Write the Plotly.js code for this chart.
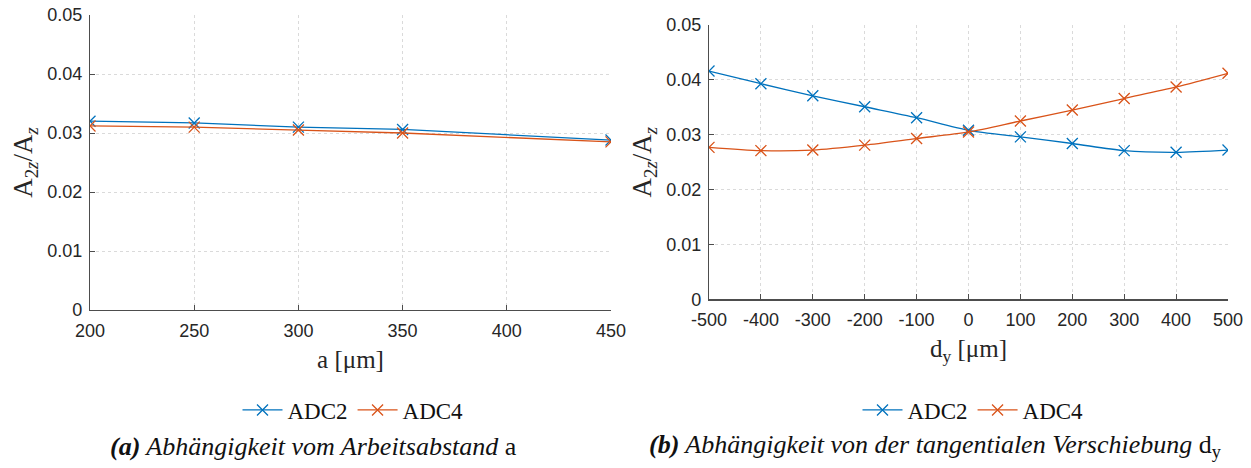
<!DOCTYPE html>
<html>
<head>
<meta charset="utf-8">
<script src="https://cdn.plot.ly/plotly-3.0.1.min.js"></script>
<style>html,body{margin:0;padding:0;background:#fff}#chart{width:1251px;height:468px}</style>
</head>
<body>
<div id="chart"></div>
<script>
// (a) working distance a [µm]
const aValues = [200, 250, 300, 350, 450];
const aADC2 = [0.0320, 0.0317, 0.0310, 0.0306, 0.0288];
const aADC4 = [0.0312, 0.0310, 0.0305, 0.0300, 0.0285];
// (b) tangential shift d_y [µm]
const dyValues = [-500, -400, -300, -200, -100, 0, 100, 200, 300, 400, 500];
const dyADC2 = [0.0416, 0.0393, 0.0371, 0.0351, 0.0331, 0.0308, 0.0296, 0.0284, 0.0271, 0.0268, 0.0272];
const dyADC4 = [0.0277, 0.0271, 0.0272, 0.0281, 0.0293, 0.0305, 0.0325, 0.0345, 0.0366, 0.0387, 0.0412];
const seriesNames = ['ADC2', 'ADC4'];
const seriesColors = ['#0072BD', '#D95319'];
const aTicks = [200, 250, 300, 350, 400, 450];
const dyTicks = [-500, -400, -300, -200, -100, 0, 100, 200, 300, 400, 500];
const yTicks = [0, 0.01, 0.02, 0.03, 0.04, 0.05];

const W = 1251, H = 468;
const tickFont = {family: 'Liberation Sans, Arial, sans-serif', size: 18, color: '#262626'};
const serif = 'Liberation Serif, DejaVu Serif, serif';

function mk(x, y, i, xa, ya, leg, shape) {
  return {
    x: x, y: y, type: 'scatter', mode: 'lines+markers', name: seriesNames[i],
    xaxis: xa, yaxis: ya, legend: leg,
    line: {color: seriesColors[i], width: 1.3, shape: shape, smoothing: 0.8},
    marker: {symbol: 'x-thin-open', size: 11, line: {color: seriesColors[i], width: 1.3}, color: seriesColors[i]}
  };
}

const data = [
  mk(aValues, aADC2, 0, 'x', 'y', 'legend', 'linear'),
  mk(aValues, aADC4, 1, 'x', 'y', 'legend', 'linear'),
  mk(dyValues, dyADC2, 0, 'x2', 'y2', 'legend2', 'spline'),
  mk(dyValues, dyADC4, 1, 'x2', 'y2', 'legend2', 'spline')
];

function xax(domain, ticks, range, title, anchor) {
  return {
    domain: domain, range: range, tickvals: ticks, ticktext: ticks.map(String),
    anchor: anchor, showline: true, linecolor: '#4d4d4d', linewidth: 1.2,
    ticks: 'inside', ticklen: 5, tickcolor: '#4d4d4d', ticklabelstandoff: 4,
    showgrid: true, gridcolor: '#dadada', griddash: 'dot', gridwidth: 1,
    zeroline: false, tickfont: tickFont,
    title: {text: title, font: {family: serif, size: 25, color: '#262626'}, standoff: 10},
    mirror: false, fixedrange: true
  };
}
function yax(domain, anchor) {
  return {
    domain: domain, range: [0, 0.05], tickvals: yTicks,
    ticktext: yTicks.map(v => v === 0 ? '0' : v.toFixed(2)),
    anchor: anchor, showline: true, linecolor: '#4d4d4d', linewidth: 1.2,
    ticks: 'inside', ticklen: 5, tickcolor: '#4d4d4d', ticklabelstandoff: 3,
    showgrid: true, gridcolor: '#dadada', griddash: 'dot', gridwidth: 1,
    zeroline: false, tickfont: tickFont,
    title: {text: 'A<sub>2<i>z</i></sub>/A<sub><i>z</i></sub>', font: {family: serif, size: 27, color: '#262626'}, standoff: 6},
    fixedrange: true
  };
}

const legFont = {family: serif, size: 23, color: '#111'};
const layout = {
  width: W, height: H,
  margin: {l: 0, r: 0, t: 0, b: 0},
  paper_bgcolor: '#fff', plot_bgcolor: '#fff',
  xaxis: xax([90/W, 611/W], aTicks, [200, 450], 'a [μm]', 'y'),
  yaxis: yax([(H-310)/H, (H-15)/H], 'x'),
  xaxis2: xax([709/W, 1228/W], dyTicks, [-500, 500], 'd<sub>y</sub> [μm]', 'y2'),
  yaxis2: yax([(H-299.3)/H, (H-25)/H], 'x2'),
  legend: {orientation: 'h', x: 353/W, xanchor: 'center', y: (H-410)/H, yanchor: 'middle',
           font: legFont, itemwidth: 40, tracegroupgap: 0, bgcolor: 'rgba(0,0,0,0)'},
  legend2: {orientation: 'h', x: 973/W, xanchor: 'center', y: (H-410)/H, yanchor: 'middle',
            font: legFont, itemwidth: 40, tracegroupgap: 0, bgcolor: 'rgba(0,0,0,0)'},
  showlegend: true,
  annotations: [
    {text: '<b><i>(a)</i></b><i> Abhängigkeit vom Arbeitsabstand</i> a', xref: 'paper', yref: 'paper',
     x: 313/W, y: (H-446)/H, xanchor: 'center', yanchor: 'middle', showarrow: false,
     font: {family: serif, size: 26, color: '#111'}},
    {text: '<b><i>(b)</i></b><i> Abhängigkeit von der tangentialen Verschiebung</i> d<sub>y</sub>', xref: 'paper', yref: 'paper',
     x: 935/W, y: (H-446)/H, xanchor: 'center', yanchor: 'middle', showarrow: false,
     font: {family: serif, size: 26, color: '#111'}}
  ]
};

Plotly.newPlot('chart', data, layout, {displayModeBar: false, staticPlot: true});
</script>
</body>
</html>
